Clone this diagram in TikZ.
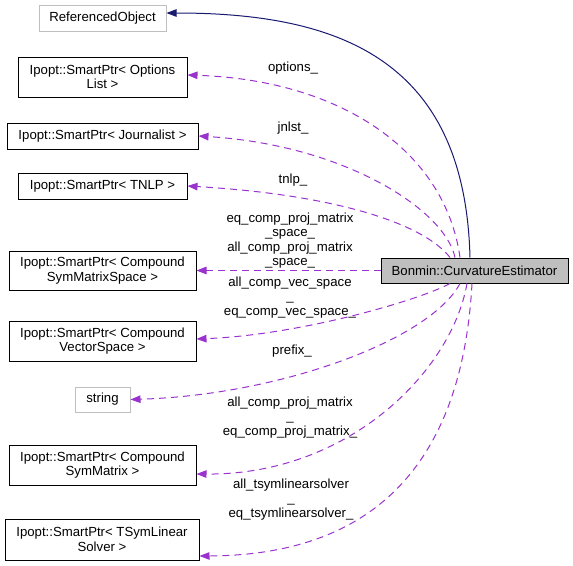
\documentclass[tikz,border=0pt]{standalone}
\usepackage{fontspec}
\setmainfont{Liberation Sans}
\usetikzlibrary{arrows.meta}
\definecolor{edgepurple}{HTML}{9A32CD}
\definecolor{edgenavy}{HTML}{191970}
\definecolor{boxgray}{HTML}{BFBFBF}
\begin{document}
\begin{tikzpicture}[x=1pt,y=-1pt,
  font=\fontsize{13.2}{14.5}\selectfont,
  cls/.style={draw=black, line width=1pt, inner sep=0pt, align=center, fill=white},
  ext/.style={draw=boxgray, line width=1pt, inner sep=0pt, align=center, fill=white},
  cur/.style={draw=black, line width=1pt, inner sep=0pt, align=center, fill=boxgray},
  lbl/.style={inner sep=0pt, align=center},
  dep/.style={draw=edgepurple, line width=1pt, dash pattern=on 7pt off 5pt,
    -{Triangle[length=10pt,width=7.5pt,fill=edgepurple]}},
  inh/.style={draw=edgenavy, line width=1pt,
    -{Triangle[length=10pt,width=7.5pt,fill=edgenavy]}}
]
\useasboundingbox (0,0) rectangle (573,565);
% nodes
\node[ext, minimum width=127pt, minimum height=26pt] (ref) at (102.5,18) {ReferencedObject};
\node[cls, minimum width=169pt, minimum height=40pt] (opt) at (102.5,77) {Ipopt::SmartPtr< Options\\List >};
\node[cls, minimum width=191pt, minimum height=26pt] (jnl) at (102.5,136) {Ipopt::SmartPtr< Journalist >};
\node[cls, minimum width=169pt, minimum height=26pt] (tnlp) at (102.5,186) {Ipopt::SmartPtr< TNLP >};
\node[cls, minimum width=187pt, minimum height=39pt] (csms) at (102.5,270.5) {Ipopt::SmartPtr< Compound\\SymMatrixSpace >};
\node[cls, minimum width=187pt, minimum height=40pt] (cvs) at (102.5,341) {Ipopt::SmartPtr< Compound\\VectorSpace >};
\node[ext, minimum width=55pt, minimum height=25pt] (str) at (102.5,399.5) {string};
\node[cls, minimum width=187pt, minimum height=40pt] (csm) at (102.5,465) {Ipopt::SmartPtr< Compound\\SymMatrix >};
\node[cls, minimum width=194pt, minimum height=41pt] (tsls) at (102,539.5) {Ipopt::SmartPtr< TSymLinear\\Solver >};
\node[cur, minimum width=187pt, minimum height=25pt] (ce) at (474.5,270.5) {Bonmin::CurvatureEstimator};
% labels
\node[lbl] (lopt) at (293,68) {options\_};
\node[lbl] (ljnl) at (293,128) {jnlst\_};
\node[lbl] (ltnlp) at (293,180) {tnlp\_};
\node[lbl] (lcsms) at (290,240.5) {eq\_comp\_proj\_matrix\\\_space\_\\all\_comp\_proj\_matrix\\\_space\_};
\node[lbl] (lcvs) at (290,297.5) {all\_comp\_vec\_space\\\_\\eq\_comp\_vec\_space\_};
\node[lbl] (lstr) at (292,351) {prefix\_};
\node[lbl] (lcsm) at (290,417.5) {all\_comp\_proj\_matrix\\\_\\eq\_comp\_proj\_matrix\_};
\node[lbl] (ltsls) at (291,499.5) {all\_tsymlinearsolver\\\_\\eq\_tsymlinearsolver\_};
% edges
\draw[inh] ([xshift=-4.5pt]ce.north) .. controls (465,60) and (340,13) .. ([yshift=5pt]ref.east);
\draw[dep] ([xshift=-14.5pt]ce.north) .. controls (445,150) and (340,80) .. ([yshift=2pt]opt.east);
\draw[dep] ([xshift=-19.5pt]ce.north) .. controls (445,210) and (345,145) .. (jnl.east);
\draw[dep] ([xshift=-24.5pt]ce.north) .. controls (425,225) and (340,195) .. (tnlp.east);
\draw[dep] (ce.west) -- (csms.east);
\draw[dep] ([xshift=-24.5pt]ce.south) .. controls (420,300) and (300,335) .. ([yshift=2pt]cvs.east);
\draw[dep] ([xshift=-14.5pt]ce.south) .. controls (430,340) and (280,395) .. (str.east);
\draw[dep] ([xshift=-7.5pt]ce.south) .. controls (452,370) and (350,475) .. ([yshift=-9pt]csm.east);
\draw[dep] ([xshift=-2.5pt]ce.south) .. controls (464,430) and (402,555) .. ([yshift=-16.5pt]tsls.east);
\end{tikzpicture}
\end{document}
